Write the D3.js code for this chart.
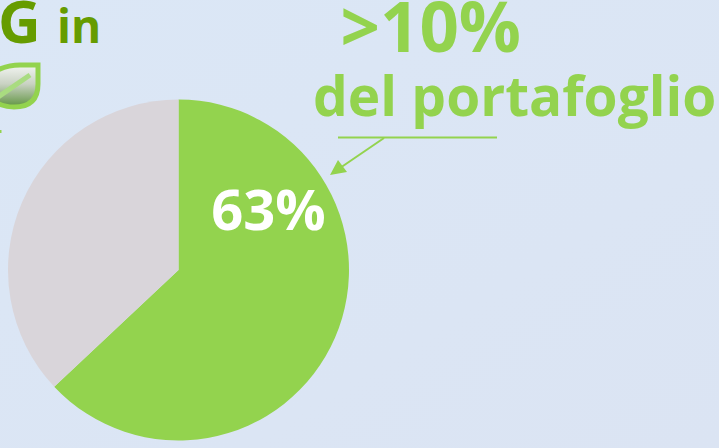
<!DOCTYPE html>
<html>
<head>
<meta charset="utf-8">
<script src="https://cdn.jsdelivr.net/npm/d3@7"></script>
<style>
  html, body { margin: 0; padding: 0; background: #dbe6f5; overflow: hidden; }
  text { font-family: "Open Sans", sans-serif; font-weight: 700; }
</style>
</head>
<body>
<div id="chart"></div>
<script>
const categories = ["ESG", "Altro"];
const shares = [63, 37];
const sliceColors = ["#93d34e", "#d9d5da"];
const valueLabel = "63%";

const width = 719, height = 448;
const cx = 178.5, cy = 270, radius = 170.5;

const svg = d3.select("#chart").append("svg")
    .attr("width", width)
    .attr("height", height);

// Background, a little paler toward the bottom right
const defs = svg.append("defs");
const bg = defs.append("linearGradient").attr("id", "bg")
    .attr("x1", 0).attr("y1", 0).attr("x2", 1).attr("y2", 1);
bg.append("stop").attr("offset", "0%").attr("stop-color", "#dbe7f6");
bg.append("stop").attr("offset", "100%").attr("stop-color", "#dbe4f3");
svg.append("rect").attr("width", width).attr("height", height).attr("fill", "url(#bg)");

// Pie
const color = d3.scaleOrdinal().domain(categories).range(sliceColors);
const pie = d3.pie().value(d => d.value).sort(null);
const arc = d3.arc().innerRadius(0).outerRadius(radius);

svg.append("g")
    .attr("transform", `translate(${cx},${cy})`)
    .selectAll("path")
    .data(pie(categories.map((c, i) => ({name: c, value: shares[i]}))))
    .enter()
    .append("path")
    .attr("d", arc)
    .attr("fill", d => color(d.data.name));

svg.append("text")
    .attr("x", 268.5).attr("y", 230)
    .attr("text-anchor", "middle")
    .attr("font-size", 56)
    .attr("fill", "#fff")
    .text(valueLabel);

// Title fragment, cut off on the left
svg.append("text")
    .attr("x", -2).attr("y", 43)
    .attr("font-size", 59)
    .attr("fill", "#669c00")
    .text("G");
svg.append("text")
    .attr("x", 57).attr("y", 43)
    .attr("font-size", 46)
    .attr("fill", "#669c00")
    .text("in");

// Leaf icon
const leaf = defs.append("linearGradient").attr("id", "leaf")
    .attr("x1", 0).attr("y1", 0).attr("x2", 0).attr("y2", 1);
leaf.append("stop").attr("offset", "0%").attr("stop-color", "#f3f5f2");
leaf.append("stop").attr("offset", "45%").attr("stop-color", "#c9d2c3");
leaf.append("stop").attr("offset", "100%").attr("stop-color", "#5f9440");
svg.append("path")
    .attr("d", "M-6,72 Q6,65 20,65 L38,65 L38,84 Q38,107 14,107 Q2,107 -6,101 Z")
    .attr("fill", "url(#leaf)")
    .attr("stroke", "#93d34e")
    .attr("stroke-width", 5);
svg.append("line")
    .attr("x1", -2).attr("y1", 97).attr("x2", 30).attr("y2", 75)
    .attr("stroke", "#a9dc80")
    .attr("stroke-width", 5);
svg.append("rect")
    .attr("x", 0).attr("y", 130).attr("width", 1.5).attr("height", 3)
    .attr("fill", "#93d34e");

// Callout
svg.append("text")
    .attr("x", 340.5).attr("y", 52)
    .attr("font-size", 69)
    .attr("fill", "#93d34e")
    .text(">10%");
svg.append("text")
    .attr("x", 313).attr("y", 116)
    .attr("font-size", 55)
    .attr("fill", "#93d34e")
    .text("del portafoglio");

svg.append("line")
    .attr("x1", 338).attr("y1", 137.5).attr("x2", 497).attr("y2", 137.5)
    .attr("stroke", "#93d34e")
    .attr("stroke-width", 2);
svg.append("line")
    .attr("x1", 384).attr("y1", 138).attr("x2", 340).attr("y2", 168)
    .attr("stroke", "#93d34e")
    .attr("stroke-width", 2);
svg.append("path")
    .attr("d", "M330,175 L338,160 L347,172 Z")
    .attr("fill", "#93d34e");
</script>
</body>
</html>
